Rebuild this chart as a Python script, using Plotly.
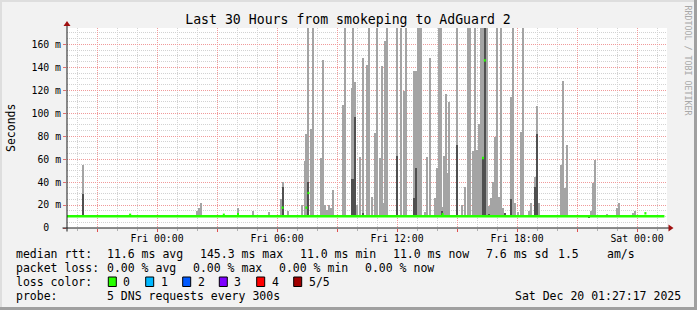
import plotly.graph_objects as go
import pandas as pd

# ---------------- data ----------------
# time of each smoke step, in hours relative to Fri 2025-12-19 00:00
spike_hours = [-3.71, -1.34, 1.99, 2.09, 2.19, 4.05, 4.78, 5.62, 6.19, 6.28, 6.55, 7.24,
               7.39, 7.47, 7.57, 7.72, 7.82, 8.22, 8.32, 8.42, 8.52, 8.62, 8.72, 8.82,
               9.32, 9.42, 9.73, 9.82, 9.92, 10.02, 10.17, 10.28, 10.52, 10.62, 10.74,
               10.92, 11.00, 11.14, 11.23, 11.32, 11.42, 11.52, 12.02, 12.22, 12.35,
               12.47, 12.87, 12.95, 13.04, 13.14, 13.22, 13.42, 13.52, 13.64, 13.92,
               14.02, 14.10, 14.18, 14.25, 14.34, 14.43, 14.52, 14.62, 15.02, 15.27,
               15.39, 15.54, 15.65, 15.82, 15.92, 16.02, 16.10, 16.22, 16.30, 16.39,
               16.48, 16.62, 16.72, 16.82, 16.92, 17.00, 17.09, 17.19, 17.32, 17.42,
               17.72, 17.82, 17.92, 18.07, 18.22, 18.32, 18.62, 18.72, 18.90, 19.00,
               19.09, 20.22, 20.32, 20.40, 20.49, 21.62, 21.72, 21.82, 21.92, 22.49,
               23.02, 23.10, 23.82, 23.92]
# upper edge of the light smoke (ms)
smoke_max = [55, 12.5, 15, 17, 22, 17.7, 14.8, 14, 25, 40.4, 15, 20,
             58, 82, 180, 86, 180, 61, 146, 20, 16, 20, 17, 33,
             107, 180, 122, 180, 127, 20, 62, 148, 142, 180, 27,
             83, 180, 61, 141, 22, 163, 180, 180, 180, 119,
             180, 137, 137, 180, 180, 180, 14, 62, 148.5, 26,
             52, 180, 180, 18, 63, 117, 48, 110, 180, 20,
             35.5, 180, 180, 67, 180, 68, 91, 180, 180, 180,
             180, 19, 26, 40, 79, 180, 27, 180, 17, 13,
             114, 180, 22, 14, 84, 180, 15, 22, 44.6, 106,
             22, 55, 128, 34.6, 72, 11, 15, 39, 59.5, 12,
             17, 22, 13, 15]
# upper edge of the dark smoke (ms), None = no dark smoke
smoke_dark = [30, None, None, None, None, None, None, None, None, 35.5, None, None,
              None, None, 40, None, None, None, None, None, None, None, None, None,
              None, None, 43, 43, 97, None, None, 13, None, None, None,
              None, None, None, None, None, None, None, 63, None, None,
              None, 26, 52, None, None, None, None, None, None, None,
              None, None, None, 15, None, None, None, None, 72, None,
              None, None, None, None, None, None, None, None, 61, 180,
              None, 12, None, None, None, None, None, None, None, 13,
              25, None, None, None, None, None, None, None, 36, 82,
              None, None, None, None, None, 11, None, None, None, None,
              None, None, None, None]
smoke_min = 9.4

median_base = 10.3
median_start, median_end = -4.5, 25.37
median_hours = [-1.34, 3.34, 4.05, 6.28, 7.47, 7.57, 14.28, 16.30, 16.39, 24.42]
median_vals = [11.5, 11.5, 12.0, 17.7, 17.7, 30.5, 12.0, 61.0, 146.0, 12.8]

x_tick_hours = [-3, 0, 3, 6, 9, 12, 15, 18, 21, 24]
x_tick_text = ["", "Fri 00:00", "", "Fri 06:00", "", "Fri 12:00", "", "Fri 18:00", "", "Sat 00:00"]
y_tick_vals = [0, 20, 40, 60, 80, 100, 120, 140, 160]
y_tick_text = ["0\u00a0\u00a0", "20 m", "40 m", "60 m", "80 m", "100 m", "120 m", "140 m", "160 m"]

loss_labels = ["0", "1", "2", "3", "4", "5/5"]
loss_colors = ["#26ff00", "#00b8ff", "#0059ff", "#7e00ff", "#ff0000", "#a10000"]

stats_rows = [
    ("median rtt:", [("11.6 ms avg", 107.3), ("145.3 ms max", 200), ("11.0 ms min", 300),
                     ("11.0 ms now", 393.3), ("7.6 ms sd", 486), ("1.5", 558.3), ("am/s", 606.7)]),
    ("packet loss:", [("0.00 % avg", 107.3), ("0.00 % max", 193.3), ("0.00 % min", 279.3),
                      ("0.00 % now", 365)]),
]
probe_text = "5 DNS requests every 300s"
stamp_text = "Sat Dec 20 01:27:17 2025"
title_text = "Last 30 Hours from smokeping to AdGuard 2"

# ---------------- helpers ----------------
T0 = pd.Timestamp("2025-12-19 00:00:00")
def t(h):
    return T0 + pd.Timedelta(hours=h)

W, H = 697, 310
L, R, T, B = 67, 30, 28, 82
PW, PH = W - L - R, H - T - B
def px(x):
    return (x - L) / PW
def py(y):
    return (T + PH - y) / PH

FONT = "DejaVu Sans Mono"
bar_w = 0.1 * 3600 * 1000  # ms

fig = go.Figure()

# light smoke
fig.add_trace(go.Bar(
    x=[t(h) for h in spike_hours],
    y=[m - smoke_min for m in smoke_max],
    base=smoke_min, width=bar_w,
    marker=dict(color="#a4a4a4", line=dict(width=0)),
    hoverinfo="skip", showlegend=False))

# dark smoke
dk = [(h, d) for h, d in zip(spike_hours, smoke_dark) if d is not None]
fig.add_trace(go.Bar(
    x=[t(h) for h, _ in dk],
    y=[d - smoke_min for _, d in dk],
    base=smoke_min, width=bar_w,
    marker=dict(color="#505050", line=dict(width=0)),
    hoverinfo="skip", showlegend=False))

# median baseline
fig.add_trace(go.Scatter(
    x=[t(median_start), t(median_end)], y=[median_base, median_base],
    mode="lines", line=dict(color="#26ff00", width=2.4),
    hoverinfo="skip", showlegend=False))

# elevated median steps
mx, my = [], []
for h, v in zip(median_hours, median_vals):
    mx += [t(h - 0.05), t(h + 0.05), None]
    my += [v, v, None]
fig.add_trace(go.Scatter(
    x=mx, y=my, mode="lines", line=dict(color="#26ff00", width=2.4),
    hoverinfo="skip", showlegend=False))

grid_minor = "#d2d2d2"
grid_major = "#f09a9a"

fig.update_layout(
    width=W, height=H,
    margin=dict(l=L, r=R, t=T, b=B, pad=0),
    paper_bgcolor="#f2f2f2", plot_bgcolor="#ffffff",
    font=dict(family=FONT, color="#000000", size=10),
    barmode="overlay", bargap=0,
    title=dict(text=title_text, x=348 / W, y=1 - 19.3 / H, xref="container", yref="container",
               xanchor="center", yanchor="middle", font=dict(family=FONT, size=13.2, color="#000")),
    xaxis=dict(
        type="date", range=[t(-4.5), t(25.5)],
        tickmode="array", tickvals=[t(h) for h in x_tick_hours], ticktext=x_tick_text,
        showgrid=True, gridcolor=grid_major, griddash="1px,1px", gridwidth=1,
        ticks="outside", ticklen=3, tickcolor="#e05050", tickwidth=1,
        ticklabelstandoff=-2,
        tickfont=dict(family=FONT, size=9.8, color="#000"),
        minor=dict(dtick=3600000, tick0=t(0), showgrid=True, gridcolor=grid_minor,
                   griddash="1px,1px", gridwidth=1, ticks="outside", ticklen=2, tickcolor="#b0b0b0"),
        showline=False, zeroline=False, fixedrange=True,
    ),
    yaxis=dict(
        range=[0, 200 / 1.148],
        tickmode="array", tickvals=y_tick_vals, ticktext=y_tick_text,
        showgrid=True, gridcolor=grid_major, griddash="1px,1px", gridwidth=1,
        ticks="outside", ticklen=3, tickcolor="#e07070",
        tickfont=dict(family=FONT, size=9.8, color="#000"),
        minor=dict(dtick=5, tick0=0, showgrid=True, gridcolor=grid_minor, griddash="1px,1px", gridwidth=1),
        showline=False, zeroline=False, fixedrange=True,
    ),
)

shapes = []
# frame (3D bevel)
shapes.append(dict(type="rect", xref="paper", yref="paper", x0=px(0), x1=px(W), y0=py(0), y1=py(2),
                   fillcolor="#dedede", line=dict(width=0), layer="below"))
shapes.append(dict(type="rect", xref="paper", yref="paper", x0=px(0), x1=px(2), y0=py(0), y1=py(H),
                   fillcolor="#dedede", line=dict(width=0), layer="below"))
shapes.append(dict(type="rect", xref="paper", yref="paper", x0=px(694), x1=px(W), y0=py(0), y1=py(H),
                   fillcolor="#a0a0a0", line=dict(width=0), layer="below"))
shapes.append(dict(type="rect", xref="paper", yref="paper", x0=px(0), x1=px(W), y0=py(307), y1=py(H),
                   fillcolor="#a0a0a0", line=dict(width=0), layer="below"))
# axis lines
shapes.append(dict(type="line", xref="paper", yref="paper", x0=px(62.5), x1=px(669), y0=py(228), y1=py(228),
                   line=dict(color="#1a1a1a", width=1)))
shapes.append(dict(type="line", xref="paper", yref="paper", x0=px(67), x1=px(67), y0=py(231.5), y1=py(25),
                   line=dict(color="#1a1a1a", width=1)))
# arrow heads
shapes.append(dict(type="path", xref="paper", yref="paper",
                   path=f"M {px(668.5)} {py(224.5)} L {px(673.5)} {py(228)} L {px(668.5)} {py(231.5)} Z",
                   fillcolor="#a01010", line=dict(width=0)))
shapes.append(dict(type="path", xref="paper", yref="paper",
                   path=f"M {px(63.5)} {py(26)} L {px(67)} {py(21)} L {px(70.5)} {py(26)} Z",
                   fillcolor="#a01010", line=dict(width=0)))

annotations = []
def text(x, y, s, anchor="left", size=11.5, color="#000", angle=0):
    annotations.append(dict(xref="paper", yref="paper", x=px(x), y=py(y), text=s, showarrow=False,
                            xanchor=anchor, yanchor="middle", textangle=angle,
                            font=dict(family=FONT, size=size, color=color), borderpad=0, borderwidth=0))

# stats rows
rows_y = [254.3, 268.3]
for (label, items), yy in zip(stats_rows, rows_y):
    text(16, yy, label)
    for s, xx in items:
        text(xx, yy, s)

# loss color legend
text(16, 282.3, "loss color:")
box_x = [108.3, 145.7, 182.7, 219.3, 256.7, 293.7]
for lab, col, bx in zip(loss_labels, loss_colors, box_x):
    shapes.append(dict(type="rect", xref="paper", yref="paper", x0=px(bx), x1=px(bx + 8),
                       y0=py(277), y1=py(286.5), fillcolor=col, line=dict(color="#000", width=1)))
    text(bx + 15, 282.3, lab)

text(16, 296, "probe:")
text(107.3, 296, probe_text)
text(680.5, 296, stamp_text, anchor="right")

# y label and side credit
text(11, 128, "Seconds", anchor="center", angle=-90)
text(687.5, 60, "RRDTOOL / TOBI OETIKER", anchor="center", size=8.3, color="#a8a8a8", angle=90)

fig.update_layout(shapes=shapes, annotations=annotations)
fig.write_html("out.html")
